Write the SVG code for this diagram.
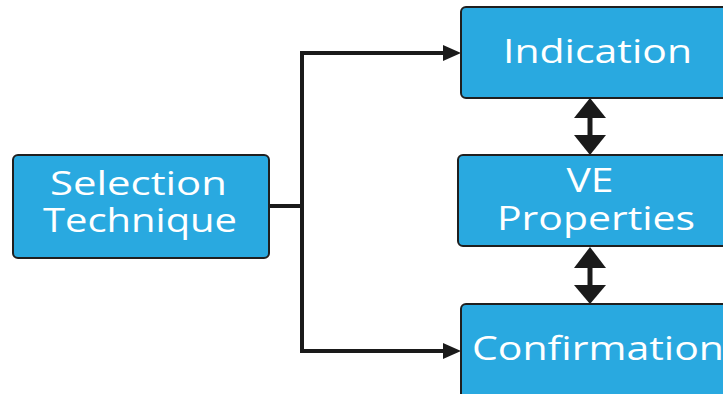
<svg xmlns="http://www.w3.org/2000/svg" width="723" height="394" viewBox="0 0 723 394">
  <style>
    .box { fill: #29a9e0; stroke: #1f1f1f; stroke-width: 2; }
    .lbl { fill: #ffffff; font-family: "Open Sans", "Noto Sans", sans-serif; font-size: 32px; text-anchor: middle; }
    .wire { fill: none; stroke: #1a1a1a; stroke-width: 4; stroke-linejoin: miter; stroke-linecap: butt; }
    .head { fill: #1a1a1a; }
  </style>
  <rect width="723" height="394" fill="#ffffff"/>

  <g id="connectors">
    <!-- branch from Selection Technique to Indication and Confirmation -->
    <path class="wire" d="M269,206 H302 M444,53 H302 V351 H444"/>
    <polygon class="head" points="443,45 461,53 443,61"/>
    <polygon class="head" points="443,343 461,351 443,359"/>
    <!-- Indication <-> VE Properties -->
    <line class="wire" x1="590" y1="115" x2="590" y2="138" style="stroke-width:5"/>
    <polygon class="head" points="590,98 606,118 574,118"/>
    <polygon class="head" points="574,135 606,135 590,155"/>
    <!-- VE Properties <-> Confirmation -->
    <line class="wire" x1="590" y1="265" x2="590" y2="288" style="stroke-width:5"/>
    <polygon class="head" points="590,247 606,268 574,268"/>
    <polygon class="head" points="574,285 606,285 590,304"/>
  </g>

  <g id="selection">
    <rect class="box" x="13" y="155" width="256" height="103" rx="5"/>
    <text class="lbl" x="138.5" y="195" textLength="177" lengthAdjust="spacingAndGlyphs">Selection</text>
    <text class="lbl" x="140" y="232" textLength="194" lengthAdjust="spacingAndGlyphs">Technique</text>
  </g>

  <g id="indication">
    <rect class="box" x="461" y="7" width="280" height="91" rx="5"/>
    <text class="lbl" x="597.5" y="63" textLength="189" lengthAdjust="spacingAndGlyphs">Indication</text>
  </g>

  <g id="ve-properties">
    <rect class="box" x="458" y="155" width="283" height="91" rx="5"/>
    <text class="lbl" x="590" y="192" textLength="47" lengthAdjust="spacingAndGlyphs">VE</text>
    <text class="lbl" x="596" y="230" textLength="198" lengthAdjust="spacingAndGlyphs">Properties</text>
  </g>

  <g id="confirmation">
    <rect class="box" x="461" y="304" width="280" height="100" rx="5"/>
    <text class="lbl" x="598" y="360" textLength="252" lengthAdjust="spacingAndGlyphs">Confirmation</text>
  </g>
</svg>
